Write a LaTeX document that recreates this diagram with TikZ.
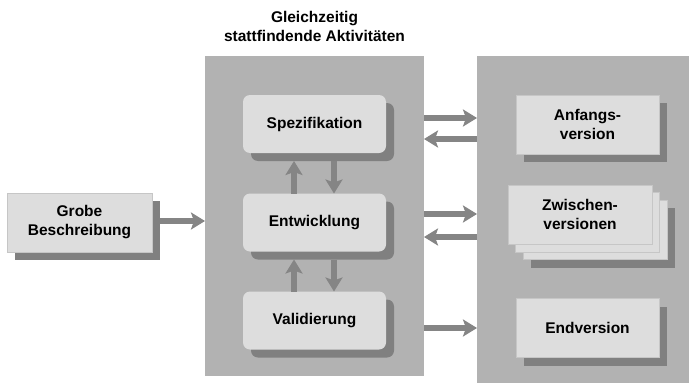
\documentclass[tikz,border=0pt]{standalone}
\usepackage{fontspec}
\setmainfont{Liberation Sans}
\usetikzlibrary{arrows.meta,shadows,calc}
\definecolor{panel}{HTML}{B2B2B2}
\definecolor{boxfill}{HTML}{DDDDDD}
\definecolor{shadowc}{HTML}{808080}
\definecolor{arrowc}{HTML}{858585}
\definecolor{edge}{HTML}{C6C6C6}
\begin{document}
\begin{tikzpicture}[x=1pt,y=-1pt,
  lbl/.style={font=\bfseries\fontsize{15.5}{19}\selectfont, align=center, text=black},
  panelbox/.style={fill=panel, draw=none, inner sep=0pt, outer sep=0pt, anchor=north west},
  dropsh/.style={general shadow={fill=shadowc, draw=none, shadow xshift=8pt, shadow yshift=-8pt}},
  midbox/.style={lbl, fill=boxfill, draw=none, rounded corners=7pt, minimum width=143pt, minimum height=58pt, inner sep=0pt, outer sep=0pt, dropsh},
  plainbox/.style={lbl, fill=boxfill, draw=edge, line width=0.6pt, minimum width=143pt, minimum height=59pt, inner sep=0pt, outer sep=0pt},
  verbox/.style={plainbox, dropsh},
  pagebox/.style={fill=boxfill, draw=edge, line width=0.6pt},
  arr/.style={draw=arrowc, line width=5.5pt, -{Stealth[length=14pt,width=17pt,inset=3pt]}},
]
\useasboundingbox (0,0) rectangle (689,383);

% panels
\node[panelbox, minimum width=219pt, minimum height=320pt] (midp) at (205,56) {};
\node[panelbox, minimum width=212pt, minimum height=327pt] (rightp) at (477,56) {};

% title
\node[lbl] (title) at (314.5,26) {Gleichzeitig\\stattfindende Aktivitäten};

% left box
\node[verbox, minimum width=145pt] (grobe) at (79.5,222.5) {Grobe\\Beschreibung};

% middle boxes
\node[midbox] (spez) at (314.5,124) {Spezifikation};
\node[midbox] (entw) at (314.5,222.5) {Entwicklung};
\node[midbox] (vali) at (314.5,320.5) {Validierung};

% right boxes
\node[verbox] (anf) at (587.5,124.5) {Anfangs-\\version};
\fill[shadowc] (531,208) rectangle (675,268);
\filldraw[pagebox] (523,200) rectangle (667,259.5);
\filldraw[pagebox] (515.5,192.5) rectangle (659.5,252);
\node[plainbox, minimum width=144pt] (zw) at (580,214.5) {Zwischen-\\versionen};
\node[verbox] (endv) at (587.5,328) {Endversion};

% vertical arrows
\draw[arr] ([xshift=-20.5pt]entw.north) -- ([xshift=-20.5pt,yshift=-8pt]spez.south);
\draw[arr] ([xshift=19.5pt,yshift=-8pt]spez.south) -- ([xshift=19.5pt]entw.north);
\draw[arr] ([xshift=-20.5pt]vali.north) -- ([xshift=-20.5pt,yshift=-8pt]entw.south);
\draw[arr] ([xshift=19.5pt,yshift=-8pt]entw.south) -- ([xshift=19.5pt]vali.north);

% input arrow
\draw[arr] ($(grobe.east)+(8,-1.5)$) -- ($(midp.west |- grobe.east)+(0,-1.5)$);

% panel-to-panel arrows
\draw[arr] ($(midp.east |- spez.east)+(0,-6)$) -- ($(rightp.west |- spez.east)+(0,-6)$);
\draw[arr] ($(rightp.west |- spez.east)+(0,15)$) -- ($(midp.east |- spez.east)+(0,15)$);
\draw[arr] ($(midp.east |- entw.east)+(0,-8.5)$) -- ($(rightp.west |- entw.east)+(0,-8.5)$);
\draw[arr] ($(rightp.west |- entw.east)+(0,14.5)$) -- ($(midp.east |- entw.east)+(0,14.5)$);
\draw[arr] ($(midp.east |- vali.east)+(0,7.5)$) -- ($(rightp.west |- vali.east)+(0,7.5)$);
\end{tikzpicture}
\end{document}
